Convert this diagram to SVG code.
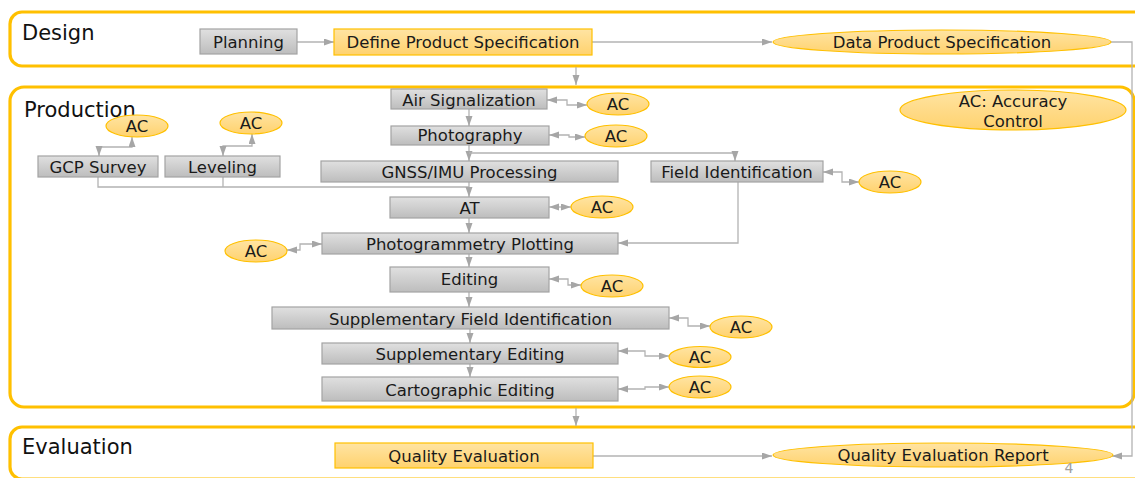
<svg xmlns="http://www.w3.org/2000/svg" width="1135" height="478" viewBox="0 0 1135 478">
  <defs>
    <linearGradient id="gGray" x1="0" y1="0" x2="0" y2="1">
      <stop offset="0" stop-color="#e0e0e0"/>
      <stop offset="1" stop-color="#bdbdbd"/>
    </linearGradient>
    <linearGradient id="gOrange" x1="0" y1="0" x2="0" y2="1">
      <stop offset="0" stop-color="#ffe4a3"/>
      <stop offset="1" stop-color="#ffd26e"/>
    </linearGradient>
    <marker id="arr" markerUnits="userSpaceOnUse" markerWidth="11" markerHeight="8" refX="10" refY="3.5" orient="auto-start-reverse">
      <path d="M0,0 L10,3.5 L0,7 z" fill="#a6a6a6"/>
    </marker>
    <style>
      .lane { fill: #ffffff; stroke: #ffc000; stroke-width: 3.2; }
      .lane-label { font-family: "DejaVu Sans", sans-serif; font-size: 21px; fill: #111111; }
      .box { fill: url(#gGray); stroke: #a3a3a3; stroke-width: 1.2; }
      .obox { fill: url(#gOrange); stroke: #ffc000; stroke-width: 1.2; }
      .ell { fill: url(#gOrange); stroke: #ffc000; stroke-width: 1.2; }
      .t { font-family: "DejaVu Sans", sans-serif; font-size: 16.5px; fill: #1a1a1a; text-anchor: middle; }
      .c { fill: none; stroke: #b3b3b3; stroke-width: 1.3; }
      .a { marker-end: url(#arr); }
      .aa { marker-start: url(#arr); marker-end: url(#arr); }
      .pg { font-family: "DejaVu Sans", sans-serif; font-size: 14px; fill: #a0a0a0; text-anchor: middle; }
    </style>
  </defs>

  <!-- swimlanes -->
  <g id="lane-design">
    <rect class="lane" x="10" y="12" width="1140" height="54" rx="12"/>
    <text class="lane-label" x="22" y="40">Design</text>
  </g>
  <g id="lane-production">
    <rect class="lane" x="10" y="87" width="1124" height="320" rx="14"/>
    <text class="lane-label" x="24" y="117">Production</text>
  </g>
  <g id="lane-evaluation">
    <rect class="lane" x="10" y="427" width="1140" height="52" rx="12"/>
    <text class="lane-label" x="22" y="454">Evaluation</text>
  </g>

  <!-- connectors -->
  <g id="connectors">
    <path class="c a" d="M297,42 H334"/>
    <path class="c a" d="M592,42 H772"/>
    <path class="c a" d="M1111,42 H1132 V456 H1112"/>
    <path class="c a" d="M576,67 V85"/>
    <path class="c a" d="M576,408 V426"/>

    <path class="c aa" d="M547,100 H567 V105 H587"/>
    <path class="c a" d="M469,109 V126"/>
    <path class="c aa" d="M549,135 H569 V137 H585"/>
    <path class="c a" d="M469,145 V161"/>
    <path class="c a" d="M469,153 H735 V161"/>

    <path class="c aa" d="M99,156 V147 H132 V137"/>
    <path class="c aa" d="M223,156 V146 H252 V134"/>
    <path class="c" d="M98,177 V187 H469"/>
    <path class="c" d="M223,177 V187"/>
    <path class="c a" d="M469,182 V197"/>

    <path class="c aa" d="M823,172 H842 V182 H859"/>
    <path class="c aa" d="M549,207 H571"/>
    <path class="c a" d="M469,218 V233"/>
    <path class="c a" d="M738,182 V243 H618"/>
    <path class="c aa" d="M322,244 H300 V250 H287"/>
    <path class="c a" d="M469,254 V267"/>
    <path class="c aa" d="M549,279 H568 V285 H581"/>
    <path class="c a" d="M469,292 V307"/>
    <path class="c aa" d="M669,318 H688 V326 H710"/>
    <path class="c a" d="M470,329 V343"/>
    <path class="c aa" d="M618,351 H645 V356 H669"/>
    <path class="c a" d="M470,364 V377"/>
    <path class="c aa" d="M618,389 H645 V387 H669"/>

    <path class="c a" d="M593,456 H772"/>
  </g>

  <!-- design nodes -->
  <g id="planning">
    <rect class="box" x="200" y="29" width="97" height="25"/>
    <text class="t" x="248.5" y="47.5">Planning</text>
  </g>
  <g id="define-spec">
    <rect class="obox" x="334" y="29" width="258" height="26"/>
    <text class="t" x="463" y="48">Define Product Specification</text>
  </g>
  <g id="data-spec">
    <ellipse class="ell" cx="942" cy="42" rx="169" ry="12"/>
    <text class="t" x="942" y="48">Data Product Specification</text>
  </g>

  <!-- production nodes -->
  <g id="legend">
    <ellipse class="ell" cx="1013" cy="110" rx="113" ry="20"/>
    <text class="t" x="1013" y="107">AC: Accuracy</text>
    <text class="t" x="1013" y="127">Control</text>
  </g>

  <g id="air-signalization">
    <rect class="box" x="391" y="89" width="156" height="20"/>
    <text class="t" x="469" y="105.5">Air Signalization</text>
  </g>
  <g id="ac-air">
    <ellipse class="ell" cx="618" cy="104" rx="31" ry="11"/>
    <text class="t" x="618" y="110">AC</text>
  </g>

  <g id="photography">
    <rect class="box" x="391" y="126" width="158" height="19"/>
    <text class="t" x="470" y="141">Photography</text>
  </g>
  <g id="ac-photo">
    <ellipse class="ell" cx="616" cy="136" rx="31" ry="11"/>
    <text class="t" x="616" y="142">AC</text>
  </g>

  <g id="gcp-survey">
    <rect class="box" x="38" y="156" width="120" height="21"/>
    <text class="t" x="98" y="173">GCP Survey</text>
  </g>
  <g id="ac-gcp">
    <ellipse class="ell" cx="137" cy="126" rx="31" ry="11"/>
    <text class="t" x="137" y="132">AC</text>
  </g>

  <g id="leveling">
    <rect class="box" x="165" y="156" width="115" height="21"/>
    <text class="t" x="222.5" y="173">Leveling</text>
  </g>
  <g id="ac-leveling">
    <ellipse class="ell" cx="251" cy="123" rx="31" ry="11"/>
    <text class="t" x="251" y="129">AC</text>
  </g>

  <g id="gnss-imu">
    <rect class="box" x="321" y="161" width="297" height="21"/>
    <text class="t" x="469.5" y="178">GNSS/IMU Processing</text>
  </g>

  <g id="field-identification">
    <rect class="box" x="651" y="161" width="172" height="21"/>
    <text class="t" x="737" y="178">Field Identification</text>
  </g>
  <g id="ac-field">
    <ellipse class="ell" cx="890" cy="182" rx="31" ry="11"/>
    <text class="t" x="890" y="188">AC</text>
  </g>

  <g id="at">
    <rect class="box" x="390" y="197" width="159" height="21"/>
    <text class="t" x="469.5" y="213.5">AT</text>
  </g>
  <g id="ac-at">
    <ellipse class="ell" cx="602" cy="207" rx="31" ry="11"/>
    <text class="t" x="602" y="213">AC</text>
  </g>

  <g id="photogrammetry-plotting">
    <rect class="box" x="322" y="233" width="296" height="21"/>
    <text class="t" x="470" y="250">Photogrammetry Plotting</text>
  </g>
  <g id="ac-plotting">
    <ellipse class="ell" cx="256" cy="251" rx="31" ry="11"/>
    <text class="t" x="256" y="257">AC</text>
  </g>

  <g id="editing">
    <rect class="box" x="390" y="267" width="159" height="25"/>
    <text class="t" x="469.5" y="285">Editing</text>
  </g>
  <g id="ac-editing">
    <ellipse class="ell" cx="612" cy="286" rx="31" ry="11"/>
    <text class="t" x="612" y="292">AC</text>
  </g>

  <g id="supp-field-identification">
    <rect class="box" x="272" y="307" width="397" height="22"/>
    <text class="t" x="470.5" y="325">Supplementary Field Identification</text>
  </g>
  <g id="ac-supp-field">
    <ellipse class="ell" cx="741" cy="327" rx="31" ry="11"/>
    <text class="t" x="741" y="333">AC</text>
  </g>

  <g id="supp-editing">
    <rect class="box" x="322" y="343" width="296" height="21"/>
    <text class="t" x="470" y="360">Supplementary Editing</text>
  </g>
  <g id="ac-supp-editing">
    <ellipse class="ell" cx="700" cy="357" rx="31" ry="10.5"/>
    <text class="t" x="700" y="363">AC</text>
  </g>

  <g id="cartographic-editing">
    <rect class="box" x="322" y="377" width="296" height="24"/>
    <text class="t" x="470" y="396">Cartographic Editing</text>
  </g>
  <g id="ac-cartographic">
    <ellipse class="ell" cx="700" cy="387" rx="31" ry="11"/>
    <text class="t" x="700" y="393">AC</text>
  </g>

  <!-- evaluation nodes -->
  <g id="quality-evaluation">
    <rect class="obox" x="335" y="443" width="258" height="25"/>
    <text class="t" x="464" y="462">Quality Evaluation</text>
  </g>
  <g id="quality-report">
    <ellipse class="ell" cx="943" cy="455" rx="170" ry="12"/>
    <text class="t" x="943" y="461">Quality Evaluation Report</text>
  </g>

  <text class="pg" x="1069" y="473">4</text>
</svg>
